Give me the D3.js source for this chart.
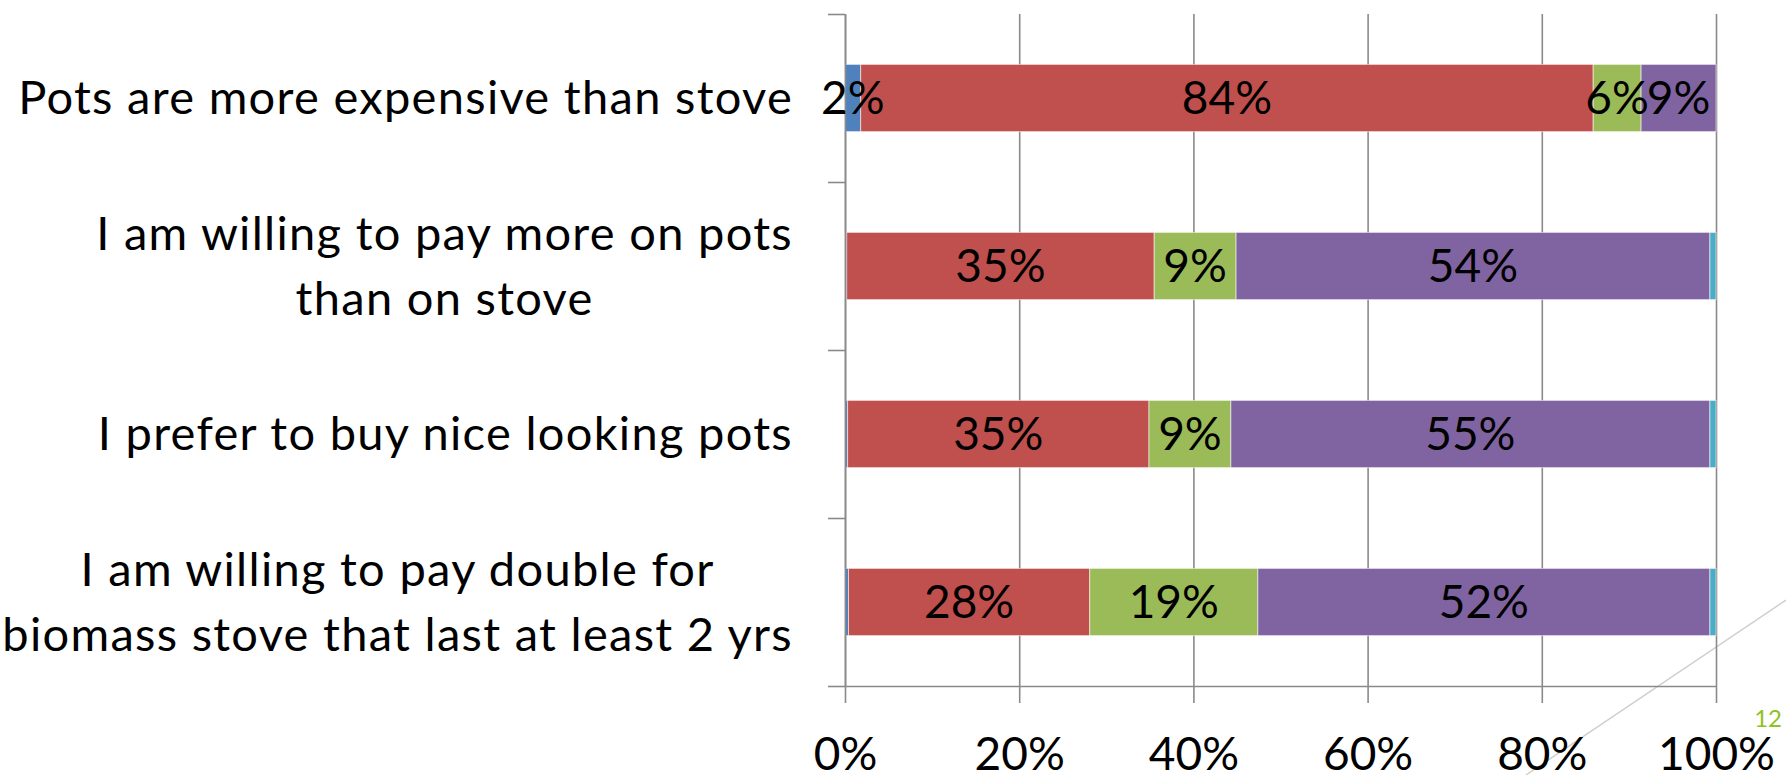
<!DOCTYPE html>
<html>
<head>
<meta charset="utf-8">
<script src="https://cdn.jsdelivr.net/npm/d3@7"></script>
<style>
  html, body { margin: 0; padding: 0; background: #ffffff; }
  svg { display: block; }
  text { font-family: Lato, "Open Sans", sans-serif; fill: #000; }
</style>
</head>
<body>
<svg id="chart" width="1786" height="775"></svg>
<script>
// Survey statements (one bar each, top to bottom); "\n" marks a line break
const categories = [
  "Pots are more expensive than stove",
  "I am willing to pay more on pots\nthan on stove",
  "I prefer to buy nice looking pots",
  "I am willing to pay double for\nbiomass stove that last at least 2 yrs"
];

// Share of respondents per answer, one array per answer (fractions of 1)
const answer1 = [0.018, 0.002, 0.003, 0.004];
const answer2 = [0.841, 0.353, 0.346, 0.277];
const answer3 = [0.055, 0.094, 0.094, 0.193];
const answer4 = [0.086, 0.544, 0.550, 0.519];
const answer5 = [0.000, 0.007, 0.007, 0.007];

const seriesKeys = ["answer1", "answer2", "answer3", "answer4", "answer5"];
const seriesColors = ["#4F81BD", "#C0504D", "#9BBB59", "#8064A2", "#4BACC6"];

// X axis tick values
const xTicks = [0, 0.2, 0.4, 0.6, 0.8, 1.0];

const pageNumber = "12";

// ---------------------------------------------------------------
const svg = d3.select("#chart");

const plot = { left: 845, right: 1716, top: 14, bottom: 686 };
const gridColor = "#8a8a8a";
const fontSize = 46;
const catFontSize = 47;

const rows = categories.map((c, i) => ({
  category: c,
  answer1: answer1[i], answer2: answer2[i], answer3: answer3[i],
  answer4: answer4[i], answer5: answer5[i]
}));

const x = d3.scaleLinear().domain([0, 1]).range([plot.left, plot.right]);
const y = d3.scaleBand()
  .domain(categories)
  .range([plot.top, plot.bottom])
  .paddingInner(0.6)
  .paddingOuter(0.3);
// category boundaries for the value-axis tick marks
const yEdge = d3.scaleLinear().domain([0, categories.length]).range([plot.top, plot.bottom]);

const color = d3.scaleOrdinal().domain(seriesKeys).range(seriesColors);

// decorative slide line in the lower right corner
svg.append("line")
  .attr("x1", 1786).attr("y1", 600)
  .attr("x2", 1526).attr("y2", 775)
  .attr("stroke", "#cfcfcf").attr("stroke-width", 1.5);

// vertical gridlines
const grid = svg.append("g")
  .attr("transform", `translate(0,${plot.bottom})`)
  .call(d3.axisBottom(x).tickValues(xTicks).tickSize(-(plot.bottom - plot.top)).tickFormat(""));
grid.select(".domain").remove();
grid.selectAll("line").attr("stroke", gridColor).attr("stroke-width", 1.6);

// stacked bars
const stacked = d3.stack().keys(seriesKeys)(rows);

const layers = svg.append("g").selectAll("g")
  .data(stacked)
  .join("g")
  .attr("fill", d => color(d.key));

layers.selectAll("rect")
  .data(d => d.map(p => ({ p, key: d.key })))
  .join("rect")
  .attr("x", d => x(d.p[0]))
  .attr("y", d => y(d.p.data.category))
  .attr("width", d => Math.max(0, x(d.p[1]) - x(d.p[0])))
  .attr("height", y.bandwidth())
  .attr("stroke", "rgba(255,255,255,0.55)")
  .attr("stroke-width", 1);

// bottom axis with outward ticks and percent labels
const xAxis = svg.append("g")
  .attr("transform", `translate(0,${plot.bottom})`)
  .call(d3.axisBottom(x).tickValues(xTicks).tickSizeInner(17).tickSizeOuter(0)
    .tickFormat(d => Math.round(d * 100) + "%"));
xAxis.select(".domain").attr("stroke", gridColor).attr("stroke-width", 1.6);
xAxis.selectAll(".tick line").attr("stroke", gridColor).attr("stroke-width", 1.6);
xAxis.selectAll(".tick text")
  .attr("y", 84).attr("dy", 0)
  .style("font-size", fontSize + "px")
  .attr("fill", "#000");

// left axis: vertical line with tick marks between categories
const yAxis = svg.append("g")
  .attr("transform", `translate(${plot.left},0)`)
  .call(d3.axisLeft(yEdge).tickValues(d3.range(categories.length + 1)).tickSizeInner(17).tickSizeOuter(0).tickFormat(""));
yAxis.select(".domain").attr("stroke", gridColor).attr("stroke-width", 1.6);
yAxis.selectAll(".tick line").attr("stroke", gridColor).attr("stroke-width", 1.6);

// value labels centred in each segment
const labelData = [];
stacked.forEach(layer => {
  layer.forEach(p => {
    const v = p[1] - p[0];
    if (v >= 0.01) labelData.push({ v, cx: (x(p[0]) + x(p[1])) / 2, cat: p.data.category });
  });
});
svg.append("g").selectAll("text")
  .data(labelData)
  .join("text")
  .attr("x", d => d.cx)
  .attr("y", d => y(d.cat) + y.bandwidth() / 2 + 16)
  .attr("text-anchor", "middle")
  .style("font-size", fontSize + "px")
  .text(d => Math.round(d.v * 100) + "%");

// category labels: lines centred on each other, block right-aligned
const labelRight = 793;
const lineGap = 65;
const catG = svg.append("g");
categories.forEach(c => {
  const lines = c.split("\n");
  const cy = y(c) + y.bandwidth() / 2;
  const g = catG.append("g");
  const texts = lines.map((ln, i) => g.append("text")
    .attr("text-anchor", "middle")
    .attr("y", cy + 16 + (i - (lines.length - 1) / 2) * lineGap)
    .style("font-size", catFontSize + "px")
    .style("letter-spacing", "1.3px")
    .text(ln));
  const maxW = d3.max(texts, t => t.node().getComputedTextLength());
  texts.forEach(t => t.attr("x", labelRight - maxW / 2));
});

// slide page number
svg.append("text")
  .attr("x", 1782).attr("y", 727)
  .attr("text-anchor", "end")
  .style("font-size", "24px")
  .style("fill", "#8DC21F")
  .text(pageNumber);
</script>
</body>
</html>
